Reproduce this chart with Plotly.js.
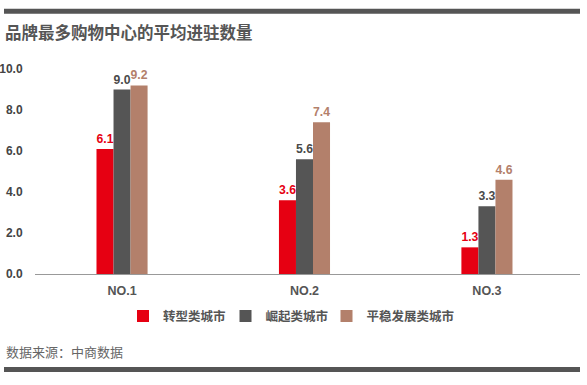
<!DOCTYPE html>
<html>
<head>
<meta charset="utf-8">
<script src="https://cdn.plot.ly/plotly-3.0.1.min.js"></script>
<style>html,body{margin:0;padding:0;background:#fff;}#chart{width:587px;height:385px;}</style>
</head>
<body>
<div id="chart"></div>
<script>
const categories = ["NO.1", "NO.2", "NO.3"];
const seriesNames = ["转型类城市", "崛起类城市", "平稳发展类城市"];
const transformCity = [6.1, 3.6, 1.3];
const risingCity = [9.0, 5.6, 3.3];
const stableCity = [9.2, 7.4, 4.6];
const yTicks = [0, 2, 4, 6, 8, 10];
const titleText = "品牌最多购物中心的平均进驻数量";
const sourceText = "数据来源：中商数据";

const FONT = "Liberation Sans, Arial, Noto Sans CJK SC, sans-serif";
const CJK = "Noto Sans CJK SC, Liberation Sans, sans-serif";
const colors = ["#e60012", "#555555", "#b3806b"];
const labelColors = ["#e60012", "#4a4a4a", "#b3806b"];
const seriesData = [transformCity, risingCity, stableCity];
const legendIds = ["legend", "legend2", "legend3"];

const traces = seriesData.map((vals, i) => ({
  type: "bar",
  name: seriesNames[i],
  legend: legendIds[i],
  x: categories,
  y: vals,
  marker: {color: colors[i], line: {width: 0}},
  text: vals.map(v => v.toFixed(1)),
  textposition: "outside",
  textfont: {family: FONT, size: 12.5, color: labelColors[i], weight: "bold"},
  cliponaxis: false,
  hoverinfo: "none"
}));

const L = 35, R = 580, T = 68.5, B = 274.5;
const W = 587, H = 385;
const px = x => (x - L) / (R - L);
const py = y => (B - y) / (B - T);

const legendSymbolCenters = [143.5, 246, 347];
const makeLegend = c => ({
  orientation: "h",
  x: px(c - 20.5), xanchor: "left",
  y: py(317), yanchor: "middle",
  font: {family: CJK, size: 12.5, color: "#555555", weight: "bold"},
  bgcolor: "rgba(0,0,0,0)"
});

const layout = {
  width: W, height: H,
  margin: {l: L, r: W - R, t: T, b: H - B, pad: 0},
  paper_bgcolor: "#ffffff",
  plot_bgcolor: "#ffffff",
  barmode: "group",
  bargap: 0.72,
  bargroupgap: 0,
  showlegend: true,
  title: {
    text: titleText,
    xref: "container", yref: "container",
    x: 5 / W, xanchor: "left",
    y: 1 - 33 / H, yanchor: "middle",
    font: {family: CJK, size: 16.5, color: "#555555", weight: "bold"}
  },
  xaxis: {
    type: "category",
    range: [-0.477, 2.51],
    showgrid: false,
    zeroline: false,
    showline: true,
    linecolor: "#999999",
    linewidth: 1.2,
    ticks: "outside", ticklen: 5, tickcolor: "rgba(0,0,0,0)",
    tickfont: {family: FONT, size: 12.5, color: "#555555", weight: "bold"},
    fixedrange: true
  },
  yaxis: {
    range: [0, 10],
    tickvals: yTicks,
    ticktext: yTicks.map(v => v.toFixed(1)),
    showgrid: false,
    zeroline: false,
    showline: false,
    ticks: "outside", ticklen: 9, tickcolor: "rgba(0,0,0,0)",
    tickfont: {family: FONT, size: 12, color: "#444444", weight: "bold"},
    fixedrange: true
  },
  legend: makeLegend(legendSymbolCenters[0]),
  legend2: makeLegend(legendSymbolCenters[1]),
  legend3: makeLegend(legendSymbolCenters[2]),
  annotations: [{
    text: sourceText,
    xref: "paper", yref: "paper",
    x: px(4), xanchor: "left",
    y: py(352), yanchor: "middle",
    showarrow: false,
    font: {family: CJK, size: 13, color: "#666666"}
  }],
  shapes: [
    {type: "rect", xref: "paper", yref: "paper", x0: px(4), x1: px(580), y0: py(13), y1: py(8), fillcolor: "#555555", line: {width: 0}, layer: "above"},
    {type: "rect", xref: "paper", yref: "paper", x0: px(4), x1: px(580), y0: py(373), y1: py(368), fillcolor: "#555555", line: {width: 0}, layer: "above"}
  ]
};

Plotly.newPlot("chart", traces, layout, {displayModeBar: false, staticPlot: true});
</script>
</body>
</html>
